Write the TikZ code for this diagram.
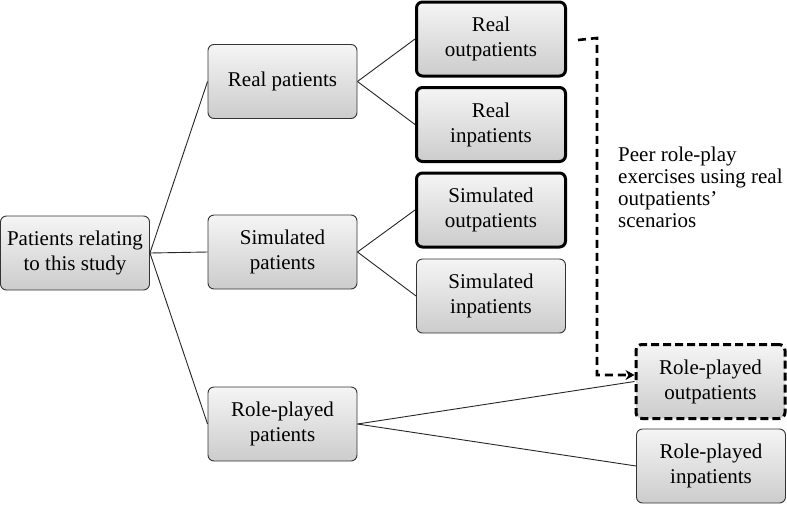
\documentclass[tikz,border=0pt]{standalone}
\usepackage{fontspec}
\setmainfont{Liberation Serif}
\usetikzlibrary{arrows.meta}
\begin{document}
\begin{tikzpicture}[x=1pt,y=-1pt,
  box/.style={draw=black!80, line width=0.9pt, rounded corners=6pt,
    top color=gray!8, bottom color=gray!40, align=center,
    minimum width=149pt, minimum height=74pt, inner sep=0pt,
    font=\fontsize{21}{25}\selectfont},
  boldbox/.style={box, draw=black, line width=3pt},
  dashbox/.style={box, draw=black, line width=3pt, dash pattern=on 8pt off 4pt},
  link/.style={draw=black!85, line width=0.9pt},
  note/.style={align=left, anchor=north west, inner sep=0pt,
    font=\fontsize{21}{22}\selectfont}]
\useasboundingbox (0,0) rectangle (787,504);
\node[box] (root) at (75,253) {Patients relating\\to this study};
\node[box] (rp) at (282.5,81.5) {Real patients};
\node[box] (sp) at (282.5,252) {Simulated\\patients};
\node[box] (lp) at (282.5,424) {Role-played\\patients};
\node[boldbox] (ro) at (491,39) {Real\\outpatients};
\node[boldbox] (ri) at (491,124.5) {Real\\inpatients};
\node[boldbox] (so) at (491,210) {Simulated\\outpatients};
\node[box] (si) at (491,296) {Simulated\\inpatients};
\node[dashbox] (lo) at (710.5,381.5) {Role-played\\outpatients};
\node[box] (li) at (711,466) {Role-played\\inpatients};
\draw[link] (root.east) -- (rp.west);
\draw[link] (root.east) -- (sp.west);
\draw[link] (root.east) -- (lp.west);
\draw[link] (rp.east) -- (ro.west);
\draw[link] (rp.east) -- (ri.west);
\draw[link] (sp.east) -- (so.west);
\draw[link] (sp.east) -- (si.west);
\draw[link] (lp.east) -- (lo.west);
\draw[link] (lp.east) -- (li.west);
\coordinate (c1) at (597,38);
\coordinate (c2) at (597,375);
\draw[black, line width=2.6pt, dash pattern=on 8pt off 5pt,
  -{Stealth[length=9pt,width=10pt,inset=3pt,line width=1pt]}]
  ([xshift=11pt,yshift=-1pt]ro.east) -- (c1) -- (c2) -- (c2 -| lo.west);
\node[note] (lbl) at (618,147) {Peer role-play\\exercises using real\\outpatients’\\scenarios};
\end{tikzpicture}
\end{document}
